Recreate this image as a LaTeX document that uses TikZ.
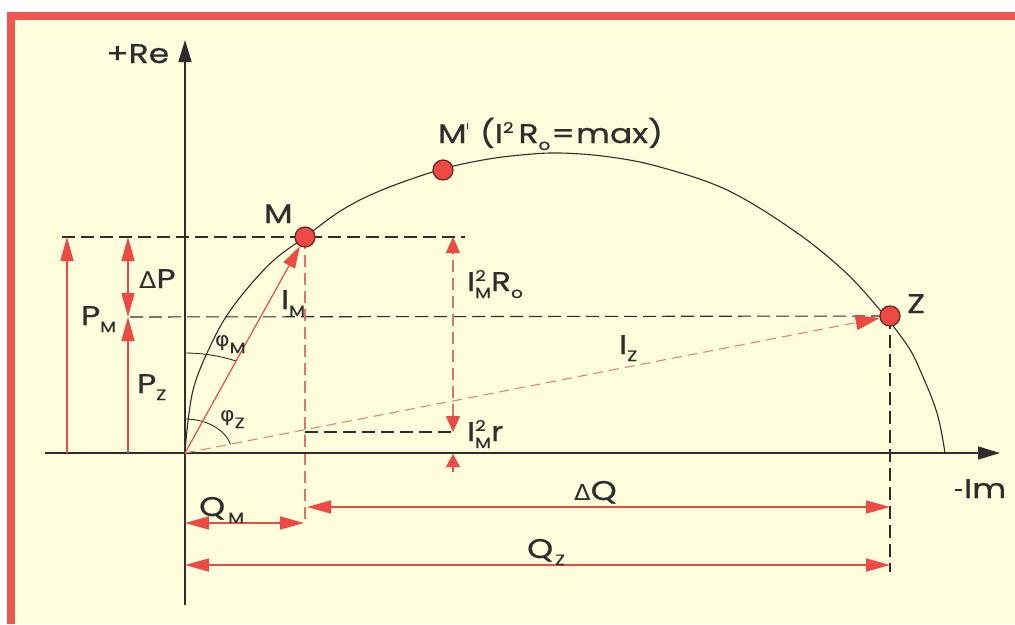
\documentclass[tikz,border=0pt]{standalone}
\usepackage{fontspec}
\setmainfont{Poppins}[FakeStretch=1.22, FakeBold=0.7]
\newfontfamily\grk{DejaVu Sans}[FakeStretch=1.1]
\usetikzlibrary{arrows.meta}
\definecolor{bgy}{HTML}{FEFDDC}
\definecolor{frm}{HTML}{F05650}
\definecolor{rd}{HTML}{EE4A44}
\definecolor{rdd}{HTML}{D9776E}
\definecolor{rdo}{HTML}{E8846C}
\definecolor{ink}{HTML}{2E2E2E}
\newcommand{\lo}[1]{\raisebox{-7pt}{\fontsize{15}{15}\selectfont #1}}
\newcommand{\hi}[1]{\raisebox{10pt}{\fontsize{15}{15}\selectfont #1}}
\newcommand{\hilo}[2]{\makebox[0pt][l]{\hi{#1}}\lo{#2}}
\newcommand{\tick}{\raisebox{14pt}{\rule{1.4pt}{6pt}}}
\tikzset{
  lbl/.style={font=\fontsize{27}{27}\selectfont, text=ink, inner sep=0pt, anchor=base west},
  phil/.style={font=\fontsize{20}{20}\selectfont, text=ink, inner sep=0pt, anchor=base west},
  blk/.style={ink, line width=1.1pt},
  bdash/.style={ink, line width=1.1pt, dash pattern=on 13pt off 6pt},
  rdash/.style={rdd, line width=1.1pt, dash pattern=on 12pt off 6pt},
  rarr/.style={rd, line width=1.5pt},
  bigtip/.tip={Triangle[length=24pt,width=13pt]},
  redtip/.tip={Triangle[length=16pt,width=14pt,color=rd]},
  axtip/.tip={Triangle[length=22pt,width=13pt]},
  pt/.style={circle, fill=rd, draw=ink!70!red, line width=1.2pt, minimum size=20pt, inner sep=0pt}
}
\begin{document}
\begin{tikzpicture}[x=1pt,y=-1pt]
\useasboundingbox (0,0) rectangle (1015,624);
\fill[white] (0,0) rectangle (1015,624);
\fill[frm] (7,12) rectangle (1015,624);
\fill[bgy] (15,20) rectangle (1015,624);

% coordinates
\coordinate (O) at (185,453);
\coordinate (reB) at (185,605);
\coordinate (reT) at (185,40);
\coordinate (imL) at (45,453);
\coordinate (imR) at (1000,453);
\coordinate (hM1) at (62,237);
\coordinate (hM2) at (465,237);
\coordinate (hZ1) at (130,317);
\coordinate (pmB) at (67,453);
\coordinate (pmT) at (67,237);
\coordinate (pzB) at (128,453);
\coordinate (pzT) at (128,317);
\coordinate (dpT) at (128,237);
\coordinate (vM) at (305,523);
\coordinate (roT) at (453,237);
\coordinate (roB) at (453,432);
\coordinate (rB1) at (453,472);
\coordinate (rB2) at (453,454);
\coordinate (hr1) at (305,432);
\coordinate (hr2) at (452,432);
\coordinate (vZ) at (890,572);
\coordinate (dqL) at (307,507);
\coordinate (dqR) at (890,507);
\coordinate (qmL) at (185,523);
\coordinate (qmR) at (304,523);
\coordinate (qzL) at (185,565);
\coordinate (qzR) at (890,565);

\path (305,237) coordinate (Mc) (443,170) coordinate (Mpc) (890,316) coordinate (Zc);

% dashed guides
\draw[bdash] (hM1) -- (hM2);
\draw[bdash] (hZ1) -- (Zc);
\draw[bdash] (hr1) -- (hr2);
\draw[bdash] (Zc) -- (vZ);
\draw[rdash] (Mc) -- (vM);

% circle arc
\draw[blk] plot[smooth, tension=0.6] coordinates {(185,453) (187,430) (191,400) (196,380) (207,353) (224,320) (246,290) (274,260) (305,237) (342,210) (382,190) (439,170) (483,160) (521,155) (560,153) (610,157) (660,167) (727,190) (793,230) (843,270) (880,310) (907,345) (920,370) (937,413) (945,453)};

% axes
\draw[ink, line width=1.4pt, -axtip] (reB) -- (reT);
\draw[ink, line width=1.4pt, -axtip] (imL) -- (imR);

% angle arcs
\draw[blk, line width=0.9pt] (185,353) arc[start angle=-90, end angle=-66.9, x radius=130, y radius=100];
\draw[blk, line width=0.9pt] (185,419) arc[start angle=-90, end angle=-15, x radius=47, y radius=34];

% points
\node[pt] (M) at (Mc) {};
\node[pt] (Mp) at (Mpc) {};
\node[pt] (Z) at (Zc) {};

% current vectors
\draw[rd, line width=1.2pt, -{Triangle[length=22pt,width=13pt]}] (O) -- (M);
\draw[rdo, line width=1.1pt, dash pattern=on 10pt off 6pt, -{Triangle[length=24pt,width=15pt,color=rd]}] (O) -- (Z);

% power arrows
\draw[rarr, -bigtip] (pmB) -- (pmT);
\draw[rarr, -bigtip] (pzB) -- (pzT);
\draw[rarr, bigtip-bigtip] (pzT) -- (dpT);
\draw[rdash, line width=1.2pt, redtip-redtip] (roB) -- (roT);
\draw[rd, line width=1.2pt, -{Triangle[length=13pt,width=14pt]}] (rB1) -- (rB2);

% reactive arrows
\draw[rarr, bigtip-bigtip] (dqL) -- (dqR);
\draw[rarr, bigtip-bigtip] (qmL) -- (qmR);
\draw[rarr, bigtip-bigtip] (qzL) -- (qzR);

% labels
\node[lbl] (tRe) at (106,63) {+Re};
\node[lbl] (tIm) at (955,498) {\rule[7pt]{7pt}{1.8pt}\hspace{2pt}Im};
\node[lbl] (tM) at (264,223) {M};
\node[lbl] (tMp) at (438,143) {M\tick\hspace{12pt}(I\hi{2}\hspace{5pt}R\lo{o}\hspace{1pt}=\hspace{1pt}max)};
\node[lbl] (tZ) at (907,313) {Z};
\node[lbl] (tdP) at (139,288) {{\grk\fontsize{23}{23}\selectfont Δ}P};
\node[lbl] (tPM) at (81,325) {P\lo{M}};
\node[lbl] (tPZ) at (137,393) {P\lo{Z}};
\node[lbl] (tIM) at (281,309) {I\lo{M}};
\node[phil] (tfM) at (215,346) {{\grk φ}\lo{M}};
\node[phil] (tfZ) at (220,421) {{\grk φ}\lo{Z}};
\node[lbl] (tIZ) at (619,354) {I\lo{Z}};
\node[lbl] (tRo) at (467,291) {I\hilo{2}{M}R\lo{o}};
\node[lbl] (tr) at (467,441) {I\hilo{2}{M}r};
\node[lbl] (tdQ) at (574,500) {{\grk\fontsize{22}{22}\selectfont Δ}Q};
\node[lbl] (tQM) at (199,516) {Q\hspace{3pt}\lo{M}};
\node[lbl] (tQZ) at (527,558) {Q\hspace{2pt}\lo{Z}};
\end{tikzpicture}
\end{document}
